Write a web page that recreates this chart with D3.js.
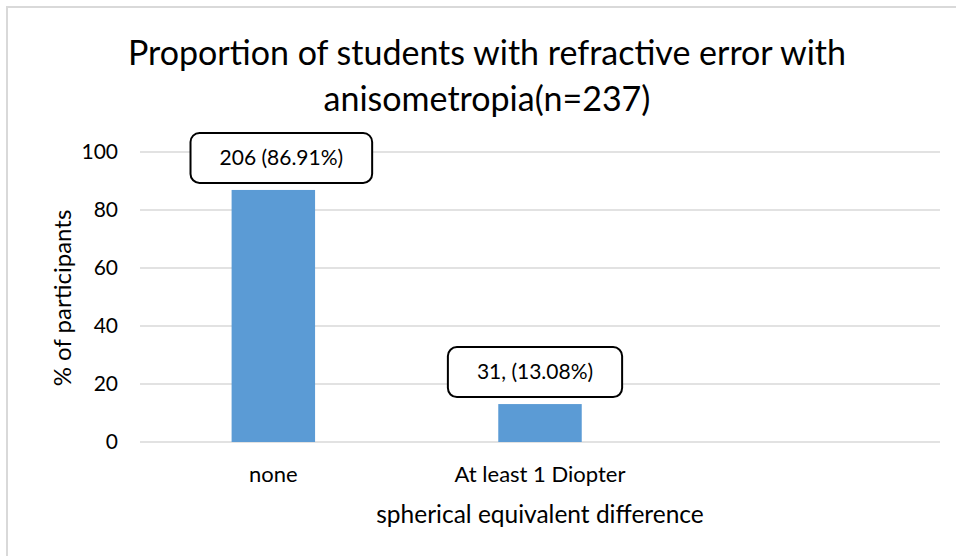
<!DOCTYPE html>
<html>
<head>
<meta charset="utf-8">
<script src="https://cdn.jsdelivr.net/npm/d3@7"></script>
<style>
    body { margin: 0; background: #fff; }
    text { font-family: Lato, "Liberation Sans", sans-serif; fill: #000; }
</style>
</head>
<body>
<div id="chart"></div>
<script>
// data
var categories = ["none", "At least 1 Diopter", ""];
var percents = [86.91, 13.08];
var barLabels = ["206 (86.91%)", "31, (13.08%)"];
var yTicks = [0, 20, 40, 60, 80, 100];
var titleLines = ["Proportion of students with refractive error with", "anisometropia(n=237)"];

// small horizontal nudges of the callouts (layout only)
var labelShift = [8, -5];

var W = 956, H = 556;
var margin = { top: 152, right: 16, bottom: 114, left: 140 },
    width = W - margin.left - margin.right,
    height = H - margin.top - margin.bottom;

var svg = d3.select("#chart").append("svg")
    .attr("width", W)
    .attr("height", H);

// outer chart border
svg.append("rect")
    .attr("x", 7).attr("y", 7)
    .attr("width", W).attr("height", H)
    .attr("fill", "none")
    .attr("stroke", "#d9d9d9")
    .attr("stroke-width", 2);

var g = svg.append("g")
    .attr("transform", "translate(" + margin.left + "," + margin.top + ")");

var x = d3.scaleBand()
    .domain(categories)
    .range([0, width])
    .paddingInner(0.687)
    .paddingOuter(0.3435);

var y = d3.scaleLinear()
    .domain([0, 100])
    .range([height, 0]);

// gridlines
g.selectAll(".grid")
    .data(yTicks)
    .enter().append("line")
    .attr("x1", 0).attr("x2", width)
    .attr("y1", function (d) { return y(d); })
    .attr("y2", function (d) { return y(d); })
    .attr("stroke", "#d9d9d9")
    .attr("stroke-width", 1.5);

// y axis labels
var yAxis = g.append("g")
    .call(d3.axisLeft(y).tickValues(yTicks).tickSize(0).tickPadding(22));
yAxis.select(".domain").remove();
yAxis.selectAll("text")
    .style("font-size", "21px")
    .attr("fill", "#000");

// x axis labels
var xAxis = g.append("g")
    .attr("transform", "translate(0," + height + ")")
    .call(d3.axisBottom(x).tickSize(0).tickPadding(24));
xAxis.select(".domain").remove();
xAxis.selectAll("text")
    .style("font-size", "22px")
    .attr("fill", "#000");

// bars
var data = percents.map(function (v, i) {
    return { cat: categories[i], value: v, label: barLabels[i], shift: labelShift[i] };
});

g.selectAll(".bar")
    .data(data)
    .enter().append("rect")
    .attr("class", "bar")
    .attr("x", function (d) { return x(d.cat); })
    .attr("width", x.bandwidth())
    .attr("y", function (d) { return y(d.value); })
    .attr("height", function (d) { return height - y(d.value); })
    .attr("fill", "#5b9bd5");

// data label callouts
var labels = g.selectAll(".lbl")
    .data(data)
    .enter().append("g")
    .attr("class", "lbl")
    .attr("transform", function (d) {
        var cx = x(d.cat) + x.bandwidth() / 2 + d.shift;
        return "translate(" + cx + "," + (y(d.value) - 32) + ")";
    });

var boxes = labels.append("rect")
    .attr("y", -25)
    .attr("height", 50)
    .attr("rx", 9)
    .attr("fill", "#fff")
    .attr("stroke", "#000")
    .attr("stroke-width", 2);

var texts = labels.append("text")
    .attr("text-anchor", "middle")
    .attr("dy", "0.35em")
    .style("font-size", "21px")
    .text(function (d) { return d.label; });

boxes.each(function (d, i) {
    var w = texts.nodes()[i].getComputedTextLength() + 58;
    d3.select(this).attr("x", -w / 2).attr("width", w);
});

// title
svg.append("text")
    .attr("x", 487)
    .attr("y", 65)
    .attr("text-anchor", "middle")
    .style("font-size", "34px")
    .selectAll("tspan")
    .data(titleLines)
    .enter().append("tspan")
    .attr("x", 487)
    .attr("dy", function (d, i) { return i === 0 ? 0 : 46; })
    .text(function (d) { return d; });

// axis titles
svg.append("text")
    .attr("transform", "rotate(-90)")
    .attr("x", -298)
    .attr("y", 71)
    .attr("text-anchor", "middle")
    .style("font-size", "24px")
    .text("% of participants");

svg.append("text")
    .attr("x", 540)
    .attr("y", 523)
    .attr("text-anchor", "middle")
    .style("font-size", "24.5px")
    .text("spherical equivalent difference");
</script>
</body>
</html>
